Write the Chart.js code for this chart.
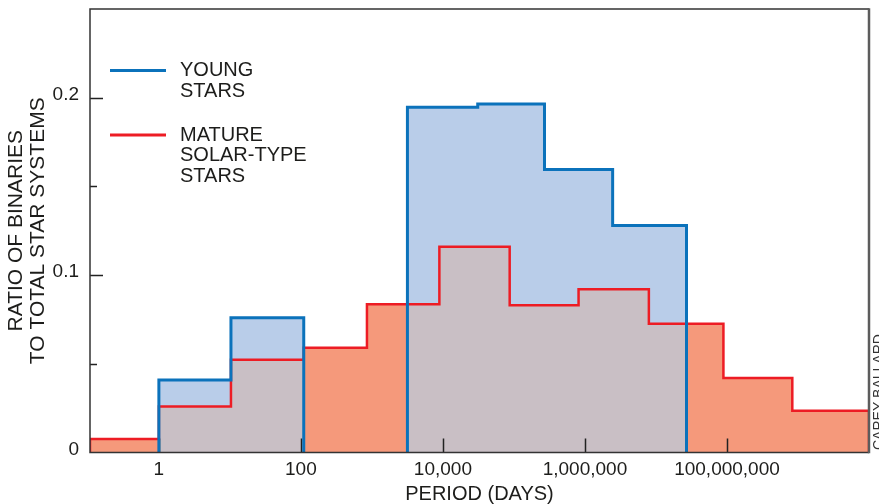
<!DOCTYPE html>
<html>
<head>
<meta charset="utf-8">
<title>Binary star periods</title>
<script src="https://cdn.jsdelivr.net/npm/chart.js@4.4.1/dist/chart.umd.min.js"></script>
<style>
  html, body { margin: 0; padding: 0; background: #fff; }
  canvas { display: block; }
</style>
</head>
<body>
<canvas id="chart" width="879" height="504"></canvas>
<script>
// bin edges are log10(period in days)
const youngEdges = [0, 1.015, 2.04, 3.5, 4.49, 5.43, 6.39, 7.43]
const youngValues = [0.0408, 0.0759, 0, 0.1946, 0.1964, 0.1595, 0.128]

const matureEdges = [-0.97, 0, 1.015, 2.04, 2.93, 3.95, 4.94, 5.91, 6.9, 7.95, 8.92, 10]
const matureValues = [0.0076, 0.026, 0.0523, 0.059, 0.0836, 0.116, 0.083, 0.092, 0.0726, 0.042, 0.0235]

const periodTicks = [0, 2, 4, 6, 8]
const periodLabels = ['1', '100', '10,000', '1,000,000', '100,000,000']
const ratioTicks = [0, 0.1, 0.2]
const ratioLabels = ['0', '0.1', '0.2']
const ratioMinor = [0.05, 0.15]

const seriesNames = [['YOUNG', 'STARS'], ['MATURE', 'SOLAR-TYPE', 'STARS']]

const FONT = "'Liberation Sans', Arial, Helvetica, sans-serif"
const TEXT = '#1d1d1b'
const BLUE = '#0b72bb'
const RED = '#ed1c24'

function histPoints(edges, values){
    let pts = [{x: edges[0], y: 0}]
    for (let i = 0; i < values.length; i++){
        pts.push({x: edges[i], y: values[i]})
        pts.push({x: edges[i+1], y: values[i]})
    }
    pts.push({x: edges[edges.length-1], y: 0})
    return pts
}

function valueAt(edges, values, x){
    for (let i = 0; i < values.length; i++){
        if (x >= edges[i] && x < edges[i+1]) return values[i]
    }
    return 0
}

// part where both histograms are filled
function overlapPoints(){
    let edges = [...new Set(youngEdges.concat(matureEdges))].sort((a, b) => a - b)
    let values = []
    for (let i = 0; i < edges.length - 1; i++){
        let mid = (edges[i] + edges[i+1]) / 2
        values.push(Math.min(valueAt(youngEdges, youngValues, mid), valueAt(matureEdges, matureValues, mid)))
    }
    return histPoints(edges, values)
}

const decorations = {
    id: 'decorations',
    afterDatasetDraw(chart, args){
        if (args.index !== 2) return
        // inward ticks, over the fills but under the outlines
        const ctx = chart.ctx
        const {left, bottom} = chart.chartArea
        const x = chart.scales.x, y = chart.scales.y
        ctx.save()
        ctx.strokeStyle = '#222'
        ctx.lineWidth = 1.5
        ctx.beginPath()
        periodTicks.forEach(v => {
            let px = Math.round(x.getPixelForValue(v)) + 0.5
            ctx.moveTo(px, bottom)
            ctx.lineTo(px, bottom - 14)
        })
        ratioTicks.slice(1).forEach(v => {
            let py = Math.round(y.getPixelForValue(v)) + 0.5
            ctx.moveTo(left, py)
            ctx.lineTo(left + 13, py)
        })
        ratioMinor.forEach(v => {
            let py = Math.round(y.getPixelForValue(v)) + 0.5
            ctx.moveTo(left, py)
            ctx.lineTo(left + 7, py)
        })
        ctx.stroke()
        ctx.restore()
    },
    afterDraw(chart){
        const ctx = chart.ctx
        const {left, right, top, bottom} = chart.chartArea
        ctx.save()
        // frame
        ctx.strokeStyle = '#333'
        ctx.lineWidth = 1.5
        ctx.beginPath()
        ctx.moveTo(right, top)
        ctx.lineTo(left, top)
        ctx.lineTo(left, bottom)
        ctx.lineTo(right, bottom)
        ctx.stroke()
        ctx.strokeStyle = '#5c5c5c'
        ctx.lineWidth = 2.5
        ctx.beginPath()
        ctx.moveTo(right, top - 0.75)
        ctx.lineTo(right, bottom + 0.75)
        ctx.stroke()

        // legend inside the plot
        const entries = [{color: BLUE, y: 70.5}, {color: RED, y: 135}]
        ctx.font = '20px ' + FONT
        ctx.fillStyle = TEXT
        ctx.textAlign = 'left'
        ctx.textBaseline = 'middle'
        entries.forEach((e, i) => {
            ctx.strokeStyle = e.color
            ctx.lineWidth = 3
            ctx.beginPath()
            ctx.moveTo(110, e.y)
            ctx.lineTo(166, e.y)
            ctx.stroke()
            seriesNames[i].forEach((line, j) => ctx.fillText(line, 180, e.y + j * 20.9))
        })

        // credit on the right edge
        ctx.translate(879, 450)
        ctx.rotate(-Math.PI / 2)
        ctx.font = '14px ' + FONT
        ctx.fillStyle = '#333'
        ctx.fillText('CAREY BALLARD', 0, 0)
        ctx.restore()
    }
}

new Chart(document.getElementById('chart'), {
    type: 'line',
    data: {
        datasets: [
            {label: 'mature fill', data: histPoints(matureEdges, matureValues), fill: 'origin',
             backgroundColor: '#f5997b', borderWidth: 0, order: 6},
            {label: 'young fill', data: histPoints(youngEdges, youngValues), fill: 'origin',
             backgroundColor: '#b9cde9', borderWidth: 0, order: 5},
            {label: 'overlap', data: overlapPoints(), fill: 'origin',
             backgroundColor: '#c9bfc5', borderWidth: 0, order: 4},
            {label: 'MATURE SOLAR-TYPE STARS', data: histPoints(matureEdges, matureValues), fill: false,
             borderColor: RED, borderWidth: 2.5, order: 2},
            {label: 'YOUNG STARS', data: histPoints(youngEdges, youngValues), fill: false,
             borderColor: BLUE, borderWidth: 3, order: 1,
             segment: {
                 // no outline along the baseline in the gap
                 borderColor: c => (c.p0.parsed.y === 0 && c.p1.parsed.y === 0) ? 'rgba(0,0,0,0)' : undefined
             }}
        ]
    },
    options: {
        responsive: false,
        animation: false,
        layout: {padding: {top: 9, right: 10, left: 0, bottom: 0}},
        elements: {point: {radius: 0, hoverRadius: 0}, line: {tension: 0, borderJoinStyle: 'miter', borderCapStyle: 'butt'}},
        plugins: {legend: {display: false}, tooltip: {enabled: false}},
        scales: {
            x: {
                type: 'linear',
                min: -0.97,
                max: 10,
                afterBuildTicks: s => { s.ticks = periodTicks.map(v => ({value: v})) },
                afterFit: s => { s.height = 51.5; s.paddingLeft = 0; s.paddingRight = 0 },
                grid: {display: false, drawTicks: false},
                border: {display: false},
                ticks: {
                    callback: v => periodLabels[periodTicks.indexOf(v)],
                    font: {family: FONT, size: 19},
                    color: TEXT,
                    padding: 6,
                    maxRotation: 0,
                    autoSkip: false
                },
                title: {
                    display: true,
                    text: 'PERIOD (DAYS)',
                    font: {family: FONT, size: 20, lineHeight: 1},
                    color: TEXT,
                    padding: 0
                }
            },
            y: {
                min: 0,
                max: 0.25,
                afterBuildTicks: s => { s.ticks = ratioTicks.map(v => ({value: v})) },
                afterFit: s => { s.width = 90; s.paddingTop = 0; s.paddingBottom = 0 },
                grid: {display: false, drawTicks: false},
                border: {display: false},
                ticks: {
                    callback: v => ratioLabels[ratioTicks.indexOf(v)],
                    font: {family: FONT, size: 19},
                    color: TEXT,
                    padding: 11,
                    labelOffset: -3
                },
                title: {
                    display: true,
                    text: ['RATIO OF BINARIES', 'TO TOTAL STAR SYSTEMS'],
                    font: {family: FONT, size: 21, lineHeight: 1.05},
                    color: TEXT,
                    padding: {top: 5, bottom: 0}
                }
            }
        }
    },
    plugins: [decorations]
})
</script>
</body>
</html>
